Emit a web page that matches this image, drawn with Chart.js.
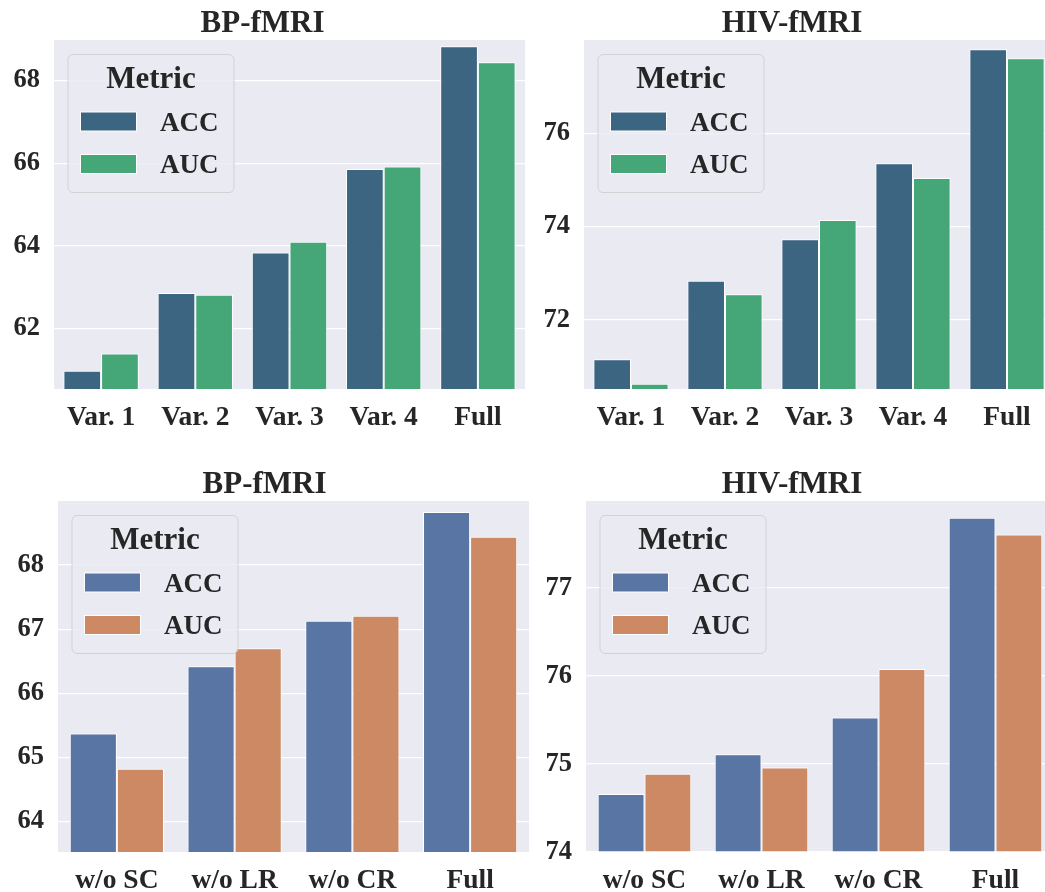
<!DOCTYPE html>
<html>
<head>
<meta charset="utf-8">
<script src="https://cdn.jsdelivr.net/npm/chart.js@4.4.1/dist/chart.umd.min.js"></script>
<style>
  html, body { margin: 0; padding: 0; background: #ffffff; width: 1045px; height: 892px; overflow: hidden; }
  canvas { position: absolute; }
</style>
</head>
<body>
<canvas id="c1" width="525" height="440" style="left:0px;top:0px"></canvas>
<canvas id="c2" width="524" height="440" style="left:530px;top:0px"></canvas>
<canvas id="c3" width="529" height="452" style="left:0px;top:440px"></canvas>
<canvas id="c4" width="524" height="452" style="left:530px;top:440px"></canvas>
<script>
// ---- data ----
const catsVar = ['Var. 1', 'Var. 2', 'Var. 3', 'Var. 4', 'Full'];
const catsAbl = ['w/o SC', 'w/o LR', 'w/o CR', 'Full'];
const seriesNames = ['ACC', 'AUC'];

const bpVarAcc  = [60.98, 62.86, 63.84, 65.86, 68.83];
const bpVarAuc  = [61.40, 62.82, 64.10, 65.92, 68.44];
const hivVarAcc = [71.16, 72.84, 73.73, 75.36, 77.80];
const hivVarAuc = [70.63, 72.55, 74.14, 75.04, 77.61];

const bpAblAcc  = [65.37, 66.42, 67.13, 68.83];
const bpAblAuc  = [64.82, 66.70, 67.21, 68.44];
const hivAblAcc = [74.66, 75.11, 75.53, 77.80];
const hivAblAuc = [74.89, 74.96, 76.08, 77.61];

const ticksBpVar  = [62, 64, 66, 68];
const ticksHivVar = [72, 74, 76];
const ticksBpAbl  = [64, 65, 66, 67, 68];
const ticksHivAbl = [74, 75, 76, 77];

const rangeBpVar  = [60.54, 68.98];
const rangeHivVar = [70.52, 78.0];
const rangeBpAbl  = [63.52, 69.0];
const rangeHivAbl = [74.0, 77.99];

// ---- styles ----
const FONT = "'Liberation Serif', 'DejaVu Serif', serif";
const TEXT = '#262626';
const topColors = ['#3c6582', '#45a778'];
const botColors = ['#5875a3', '#cc8963'];

const bgPlugin = {
  id: 'axbg',
  beforeDraw(chart) {
    const a = chart.chartArea, ctx = chart.ctx;
    ctx.save();
    ctx.fillStyle = '#eaeaf2';
    ctx.fillRect(a.left, a.top, a.right - a.left, a.bottom - a.top);
    ctx.restore();
  }
};

function roundRect(ctx, x, y, w, h, r) {
  ctx.beginPath();
  ctx.moveTo(x + r, y);
  ctx.lineTo(x + w - r, y);
  ctx.arcTo(x + w, y, x + w, y + r, r);
  ctx.lineTo(x + w, y + h - r);
  ctx.arcTo(x + w, y + h, x + w - r, y + h, r);
  ctx.lineTo(x + r, y + h);
  ctx.arcTo(x, y + h, x, y + h - r, r);
  ctx.lineTo(x, y + r);
  ctx.arcTo(x, y, x + r, y, r);
  ctx.closePath();
}

const legendPlugin = {
  id: 'boxlegend',
  afterDatasetsDraw(chart) {
    const a = chart.chartArea, ctx = chart.ctx;
    const x = a.left + 14, y = a.top + 14.5, w = 166, h = 138;
    ctx.save();
    roundRect(ctx, x, y, w, h, 5);
    ctx.fillStyle = 'rgba(234,234,242,0.8)';
    ctx.fill();
    ctx.strokeStyle = 'rgba(204,204,204,0.8)';
    ctx.lineWidth = 1;
    ctx.stroke();
    ctx.fillStyle = TEXT;
    ctx.textBaseline = 'alphabetic';
    ctx.textAlign = 'center';
    ctx.font = 'bold 31px ' + FONT;
    ctx.fillText('Metric', x + w / 2, y + 33);
    ctx.textAlign = 'left';
    ctx.font = 'bold 27px ' + FONT;
    chart.data.datasets.forEach((ds, i) => {
      const hy = y + 57.5 + i * 42.5;
      ctx.fillStyle = ds.backgroundColor;
      ctx.fillRect(x + 12.5, hy, 56, 19);
      ctx.strokeStyle = '#ffffff';
      ctx.lineWidth = 1;
      ctx.strokeRect(x + 12.5, hy, 56, 19);
      ctx.fillStyle = TEXT;
      ctx.fillText(ds.label, x + 92, hy + 18.5);
    });
    ctx.restore();
  }
};

function makeChart(id, title, cats, acc, auc, colors, ticks, range, yWidth, xHeight, padTop) {
  const ctx = document.getElementById(id).getContext('2d');
  return new Chart(ctx, {
    type: 'bar',
    data: {
      labels: cats,
      datasets: [
        { label: seriesNames[0], data: acc, backgroundColor: colors[0], borderColor: '#ffffff', borderWidth: 1, base: range[0] },
        { label: seriesNames[1], data: auc, backgroundColor: colors[1], borderColor: '#ffffff', borderWidth: 1, base: range[0] }
      ]
    },
    options: {
      responsive: false,
      animation: false,
      devicePixelRatio: 1,
      layout: { padding: { top: padTop, left: 0, right: 0, bottom: 0 } },
      datasets: { bar: { categoryPercentage: 0.8, barPercentage: 1.0 } },
      plugins: {
        legend: { display: false },
        tooltip: { enabled: false },
        title: {
          display: true, text: title, color: TEXT,
          font: { family: FONT, size: 31, weight: 'bold', lineHeight: 1 },
          padding: { top: 8, bottom: 1 }
        }
      },
      scales: {
        x: {
          offset: true,
          grid: { display: false, drawTicks: false },
          border: { display: false },
          ticks: { color: TEXT, padding: 12, maxRotation: 0, autoSkip: false, font: { family: FONT, size: 27.5, weight: 'bold' } },
          afterFit(s) { s.height = xHeight; s.paddingLeft = 0; s.paddingRight = 0; }
        },
        y: {
          min: range[0], max: range[1],
          grid: { color: '#ffffff', lineWidth: 1.2, drawTicks: false },
          border: { display: false },
          ticks: { color: TEXT, padding: 14, font: { family: FONT, size: 26.5, weight: 'bold' } },
          afterBuildTicks(s) { s.ticks = ticks.map(v => ({ value: v })); },
          afterFit(s) { s.width = yWidth; s.paddingTop = 0; s.paddingBottom = 0; }
        }
      }
    },
    plugins: [bgPlugin, legendPlugin]
  });
}

makeChart('c1', 'BP-fMRI',  catsVar, bpVarAcc,  bpVarAuc,  topColors, ticksBpVar,  rangeBpVar,  54, 51, 0);
makeChart('c2', 'HIV-fMRI', catsVar, hivVarAcc, hivVarAuc, topColors, ticksHivVar, rangeHivVar, 54, 51, 0);
makeChart('c3', 'BP-fMRI',  catsAbl, bpAblAcc,  bpAblAuc,  botColors, ticksBpAbl,  rangeBpAbl,  58, 40, 21);
makeChart('c4', 'HIV-fMRI', catsAbl, hivAblAcc, hivAblAuc, botColors, ticksHivAbl, rangeHivAbl, 56, 40, 21);
</script>
</body>
</html>
